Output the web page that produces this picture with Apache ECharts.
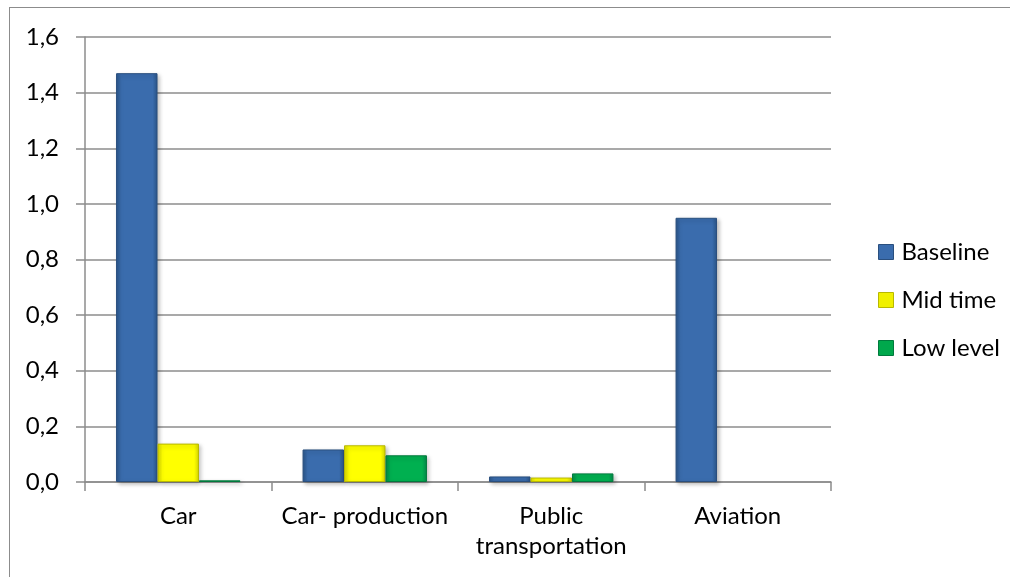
<!DOCTYPE html>
<html>
<head>
<meta charset="utf-8">
<script src="https://cdn.jsdelivr.net/npm/echarts@6/dist/echarts.min.js"></script>
<style>
  html, body { margin: 0; padding: 0; background: #fff; overflow: hidden; }
  #frame { position: absolute; left: 9px; top: 7px; width: 1030px; height: 600px; border: 1px solid #8c8c8c; box-sizing: border-box; }
  #chart { position: absolute; left: 0; top: 0; width: 1010px; height: 577px; }
</style>
</head>
<body>
<div id="frame"></div>
<div id="chart"></div>
<script>
// Categories and series values
const categories = ['Car', 'Car- production', 'Public\ntransportation', 'Aviation'];
const baseline = [1.47, 0.117, 0.02, 0.95];
const midTime  = [0.138, 0.132, 0.016, 0];
const lowLevel = [0.006, 0.096, 0.031, 0];
const yTicks = { min: 0, max: 1.6, interval: 0.2 };

const FONT = 'Lato, "Open Sans", sans-serif';
const FS = 24;

// Horizontal gradient giving a bevelled look to each bar
function bevel(edge, mid) {
  return new echarts.graphic.LinearGradient(0, 0, 1, 0, [
    { offset: 0, color: edge },
    { offset: 0.12, color: mid },
    { offset: 0.88, color: mid },
    { offset: 1, color: edge }
  ]);
}

const styles = {
  Baseline: { fill: bevel('#2a5588', '#3a6cad'), border: '#2a4f7e', icon: '#3a6cad' },
  'Mid time': { fill: bevel('#d6d600', '#ffff00'), border: '#b8b800', icon: '#f0f000' },
  'Low level': { fill: bevel('#00894a', '#00b050'), border: '#007a3d', icon: '#00a84c' }
};

function makeSeries(name, data) {
  const s = styles[name];
  return {
    name: name,
    type: 'bar',
    // zero-height bars are left undrawn
    data: data.map(v => (v === 0 ? null : v)),
    barGap: '0%',
    barCategoryGap: '33.3%',
    itemStyle: {
      color: s.fill,
      borderColor: s.border,
      borderWidth: 1,
      shadowColor: 'rgba(0,0,0,0.25)',
      shadowBlur: 4,
      shadowOffsetX: 2,
      shadowOffsetY: 2
    }
  };
}

const chart = echarts.init(document.getElementById('chart'), null, { renderer: 'canvas' });
chart.setOption({
  animation: false,
  grid: { left: 85, right: 179, top: 37, bottom: 95, containLabel: false },
  legend: {
    orient: 'vertical',
    left: 873,
    top: 235,
    itemGap: 24,
    itemWidth: 15,
    itemHeight: 15,
    icon: 'rect',
    textStyle: { fontFamily: FONT, fontSize: FS, lineHeight: 24, color: '#000', padding: [0, 0, 0, 3] },
    data: [
      { name: 'Baseline', itemStyle: { color: styles.Baseline.icon, borderColor: '#2a4f7e', borderWidth: 1 } },
      { name: 'Mid time', itemStyle: { color: styles['Mid time'].icon, borderColor: '#b8b800', borderWidth: 1 } },
      { name: 'Low level', itemStyle: { color: styles['Low level'].icon, borderColor: '#007a3d', borderWidth: 1 } }
    ]
  },
  xAxis: {
    type: 'category',
    data: categories,
    axisLine: { lineStyle: { color: '#8c8c8c', width: 1.5 } },
    axisTick: { show: true, length: 9, lineStyle: { color: '#8c8c8c', width: 1.5 } },
    axisLabel: { interval: 0, hideOverlap: false, fontFamily: FONT, fontSize: FS, color: '#000', margin: 19, lineHeight: 30 }
  },
  yAxis: {
    type: 'value',
    min: yTicks.min,
    max: yTicks.max,
    interval: yTicks.interval,
    axisLine: { show: true, lineStyle: { color: '#8c8c8c', width: 1.5 } },
    axisTick: { show: true, length: 9, lineStyle: { color: '#8c8c8c', width: 1.5 } },
    splitLine: { lineStyle: { color: '#8c8c8c', width: 1.5 } },
    axisLabel: {
      fontFamily: FONT, fontSize: FS, color: '#000', margin: 26,
      formatter: v => v.toFixed(1).replace('.', ',')
    }
  },
  series: [
    makeSeries('Baseline', baseline),
    makeSeries('Mid time', midTime),
    makeSeries('Low level', lowLevel)
  ]
});
</script>
</body>
</html>
